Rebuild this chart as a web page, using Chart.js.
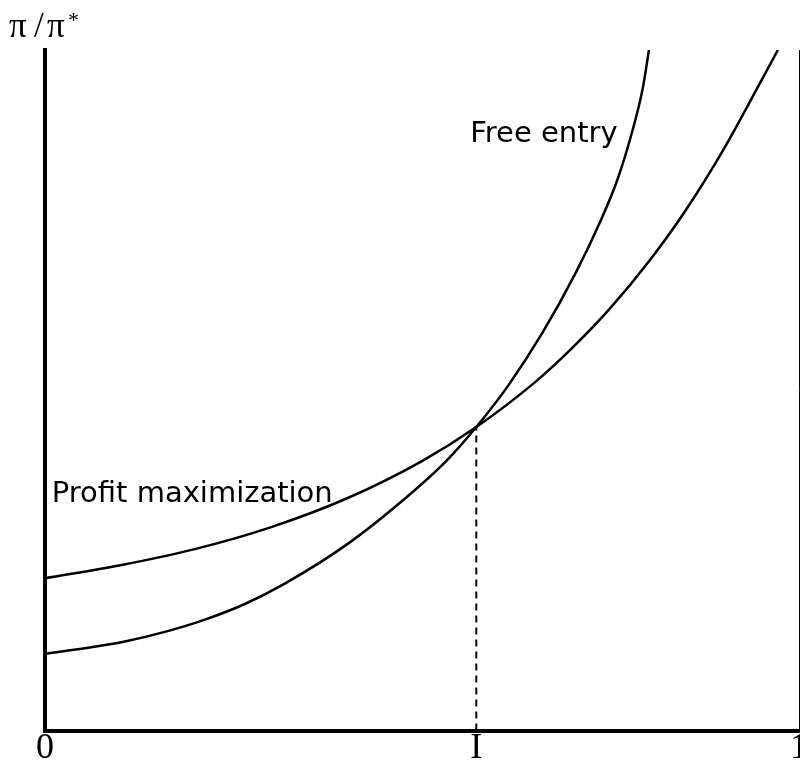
<!DOCTYPE html>
<html>
<head>
<meta charset="utf-8">
<script src="https://cdn.jsdelivr.net/npm/chart.js@4.4.0/dist/chart.umd.min.js"></script>
<style>
  html, body { margin: 0; padding: 0; background: #fff; overflow: hidden; }
  #wrap { width: 810px; height: 767px; }
</style>
</head>
<body>
<div id="wrap"><canvas id="myChart" width="810" height="767"></canvas></div>
<script>
// values (x: 0..1 along the axis, y: pi/pi* in 0..1 of the plot height)
const profitX = [0, 0.1, 0.2, 0.3, 0.4, 0.5, 0.572, 0.65, 0.7, 0.75, 0.8, 0.85, 0.9, 0.95, 0.972];
const profitY = [0.224, 0.243, 0.267, 0.299, 0.341, 0.396, 0.446, 0.512, 0.563, 0.621, 0.688, 0.765, 0.854, 0.955, 1.0];

const entryX = [0, 0.053, 0.106, 0.159, 0.212, 0.265, 0.318, 0.401, 0.488, 0.533, 0.572, 0.615, 0.660, 0.704, 0.736, 0.759, 0.780, 0.793, 0.801];
const entryY = [0.113, 0.121, 0.131, 0.145, 0.163, 0.186, 0.216, 0.274, 0.351, 0.397, 0.446, 0.508, 0.585, 0.673, 0.747, 0.809, 0.885, 0.945, 1.0];

const crossX = 0.572;
const crossY = 0.446;

const tickValues = [0, crossX, 1];
const tickLabels = ['0', 'I', '1'];

const notes = [
  { text: 'Free entry', x: 0.564, y: 0.865 },
  { text: 'Profit maximization', x: 0.009, y: 0.336 }
];

function pts(xs, ys) {
  return xs.map((x, i) => ({ x: x, y: ys[i] }));
}

const notesPlugin = {
  id: 'notes',
  afterDatasetsDraw(chart) {
    const ctx = chart.ctx;
    const xs = chart.scales.x, ys = chart.scales.y;
    ctx.save();
    ctx.fillStyle = '#000';
    ctx.textBaseline = 'alphabetic';
    ctx.font = '29px "DejaVu Sans"';
    notes.forEach(n => {
      ctx.fillText(n.text, xs.getPixelForValue(n.x), ys.getPixelForValue(n.y));
    });
    // axis title pi/pi*
    ctx.font = '35px "Liberation Serif"';
    ctx.fillText('π', 9, 37);
    ctx.fillText('/', 34, 37);
    ctx.fillText('π', 47, 37);
    ctx.font = '22px "Liberation Serif"';
    ctx.fillText('*', 68, 27);
    ctx.restore();
  }
};

const config = {
  type: 'scatter',
  data: {
    datasets: [
      {
        label: 'Profit maximization',
        data: pts(profitX, profitY),
        showLine: true,
        borderColor: '#000',
        borderWidth: 2.5,
        pointRadius: 0,
        cubicInterpolationMode: 'monotone'
      },
      {
        label: 'Free entry',
        data: pts(entryX, entryY),
        showLine: true,
        borderColor: '#000',
        borderWidth: 2.5,
        pointRadius: 0,
        cubicInterpolationMode: 'monotone'
      },
      {
        label: 'I',
        data: pts([crossX, crossX], [0, crossY]),
        showLine: true,
        borderColor: '#000',
        borderWidth: 2,
        borderDash: [7, 5],
        pointRadius: 0
      }
    ]
  },
  options: {
    responsive: false,
    animation: false,
    layout: { padding: { top: 50, left: 45, right: 0, bottom: 0 } },
    plugins: {
      legend: { display: false },
      tooltip: { enabled: false }
    },
    scales: {
      x: {
        type: 'linear',
        min: 0,
        max: 1,
        afterBuildTicks: s => { s.ticks = tickValues.map(v => ({ value: v })); },
        ticks: {
          autoSkip: false,
          maxRotation: 0,
          padding: 2,
          color: '#000',
          font: { family: '"Liberation Serif"', size: 36, lineHeight: 0.9 },
          callback: (v, i) => tickLabels[i]
        },
        grid: { display: false, drawTicks: false },
        border: { display: true, width: 4, color: '#000' }
      },
      y: {
        min: 0,
        max: 1,
        ticks: { display: false },
        grid: { display: false, drawTicks: false },
        border: { display: true, width: 4, color: '#000' }
      },
      y2: {
        position: 'right',
        min: 0,
        max: 1,
        ticks: { display: false },
        grid: { display: false, drawTicks: false },
        border: { display: true, width: 1, color: '#000' }
      }
    }
  },
  plugins: [notesPlugin]
};

window.ctx = document.getElementById('myChart').getContext('2d');
window.myChart = new Chart(ctx, config);
</script>
</body>
</html>
